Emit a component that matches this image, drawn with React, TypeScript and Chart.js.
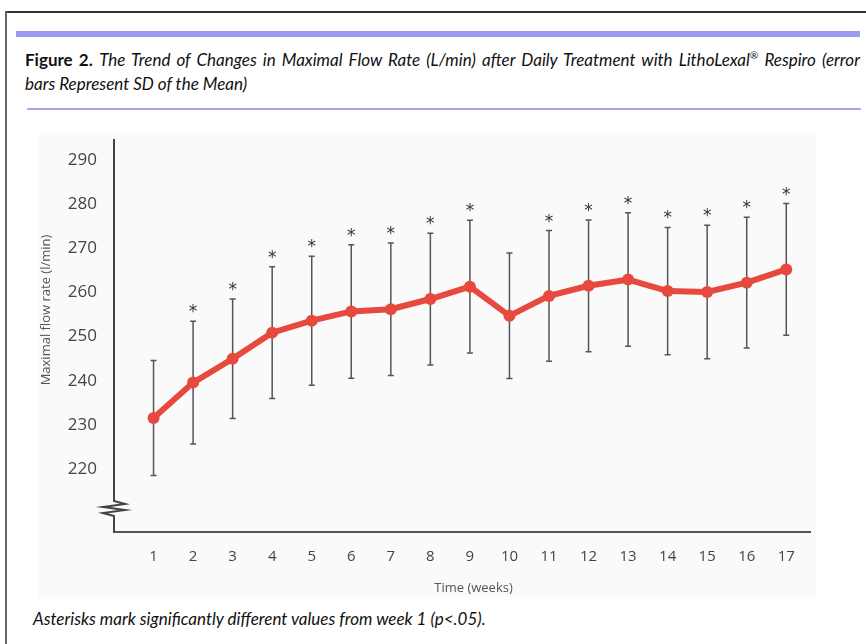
import React, { useEffect, useRef } from "react";
import { Chart, registerables } from "chart.js";

Chart.register(...registerables);

const weeks = [1, 2, 3, 4, 5, 6, 7, 8, 9, 10, 11, 12, 13, 14, 15, 16, 17];
const meanFlow = [231.6, 239.6, 245.0, 250.9, 253.6, 255.7, 256.2, 258.5, 261.3, 254.7, 259.2, 261.5, 262.9, 260.3, 260.1, 262.2, 265.2];
const sdFlow = [13.0, 13.9, 13.5, 14.9, 14.6, 15.1, 15.0, 14.9, 15.0, 14.2, 14.8, 14.9, 15.1, 14.4, 15.1, 14.8, 14.9];
const significant = [false, true, true, true, true, true, true, true, true, false, true, true, true, true, true, true, true];
const yTickValues = [220, 230, 240, 250, 260, 270, 280, 290];
const xTitle = "Time (weeks)";
const yTitle = "Maximal flow rate (l/min)";

const TICK_FONT = '"Open Sans", sans-serif';

const decorPlugin = {
  id: "decor",
  beforeDraw(chart: any) {
    const { ctx, width, height } = chart;
    ctx.save();
    ctx.fillStyle = "#fafafa";
    ctx.fillRect(0, 0, width, height);
    ctx.restore();
  },
  beforeDatasetsDraw(chart: any) {
    const { ctx, chartArea } = chart;
    const xs = chart.scales.x;
    const ys = chart.scales.y;
    ctx.save();
    ctx.strokeStyle = "#555";
    ctx.lineWidth = 1.5;
    for (let i = 0; i < weeks.length; i++) {
      const x = xs.getPixelForValue(weeks[i]);
      const yt = ys.getPixelForValue(meanFlow[i] + sdFlow[i]);
      const yb = ys.getPixelForValue(meanFlow[i] - sdFlow[i]);
      ctx.beginPath();
      ctx.moveTo(x, yt);
      ctx.lineTo(x, yb);
      ctx.moveTo(x - 3, yt);
      ctx.lineTo(x + 3, yt);
      ctx.moveTo(x - 3, yb);
      ctx.lineTo(x + 3, yb);
      ctx.stroke();
    }
    const ax = chartArea.left;
    const b = chartArea.bottom;
    ctx.strokeStyle = "#444";
    ctx.lineWidth = 2;
    ctx.beginPath();
    ctx.moveTo(ax, chartArea.top);
    ctx.lineTo(ax, b - 31);
    ctx.lineTo(ax + 11, b - 28);
    ctx.lineTo(ax - 11, b - 25);
    ctx.lineTo(ax + 11, b - 22);
    ctx.lineTo(ax - 11, b - 19);
    ctx.lineTo(ax, b - 16);
    ctx.lineTo(ax, b);
    ctx.stroke();
    ctx.restore();
  },
  afterDatasetsDraw(chart: any) {
    const { ctx } = chart;
    const xs = chart.scales.x;
    const ys = chart.scales.y;
    ctx.save();
    ctx.fillStyle = "#333";
    ctx.font = '17px "DejaVu Sans", sans-serif';
    ctx.textAlign = "center";
    ctx.textBaseline = "alphabetic";
    for (let i = 0; i < weeks.length; i++) {
      if (!significant[i]) continue;
      const x = xs.getPixelForValue(weeks[i]);
      const yt = ys.getPixelForValue(meanFlow[i] + sdFlow[i]);
      ctx.fillText("*", x, yt - 4);
    }
    ctx.fillStyle = "#555";
    ctx.font = "13px " + TICK_FONT;
    ctx.textBaseline = "middle";
    ctx.fillText(xTitle, 435.5, chart.height - 9);
    ctx.translate(8, 177);
    ctx.rotate(-Math.PI / 2);
    ctx.fillText(yTitle, 0, 0);
    ctx.restore();
  },
};

function FlowChart() {
  const ref = useRef<HTMLCanvasElement | null>(null);
  useEffect(() => {
    if (!ref.current) return;
    const chart = new Chart(ref.current, {
      type: "line",
      data: {
        datasets: [
          {
            data: weeks.map((w, i) => ({ x: w, y: meanFlow[i] })),
            borderColor: "#e8493f",
            backgroundColor: "#e8493f",
            borderWidth: 6,
            pointRadius: 6,
            pointHoverRadius: 6,
            pointBackgroundColor: "#e8493f",
            pointBorderWidth: 0,
            tension: 0,
          },
        ],
      },
      options: {
        responsive: false,
        animation: false,
        layout: { padding: { top: 5, right: 0, left: 0, bottom: 0 } },
        plugins: { legend: { display: false }, tooltip: { enabled: false } },
        scales: {
          x: {
            type: "linear",
            min: 0,
            max: 17.6,
            grid: { display: false, drawTicks: false },
            border: { display: true, color: "#555", width: 2 },
            ticks: { padding: 16, color: "#444", font: { family: TICK_FONT, size: 15 } },
            afterBuildTicks: (s: any) => {
              s.ticks = weeks.map((v) => ({ value: v }));
            },
            afterFit: (s: any) => {
              s.height = 65;
              s.paddingLeft = 0;
              s.paddingRight = 0;
            },
          },
          y: {
            type: "linear",
            min: 205.8,
            max: 294.7,
            grid: { display: false, drawTicks: false },
            border: { display: false },
            ticks: { padding: 17, color: "#444", font: { family: TICK_FONT, size: 17 } },
            afterBuildTicks: (s: any) => {
              s.ticks = yTickValues.map((v) => ({ value: v }));
            },
            afterFit: (s: any) => {
              s.width = 76;
              s.paddingTop = 0;
              s.paddingBottom = 0;
            },
          },
        },
      },
      plugins: [decorPlugin],
    });
    return () => chart.destroy();
  }, []);
  return (
    <canvas
      ref={ref}
      width={778}
      height={464}
      style={{ position: "absolute", left: 38, top: 133, width: 778, height: 464 }}
    />
  );
}

export default function App() {
  return (
    <div
      style={{
        position: "absolute",
        left: 0,
        top: 0,
        width: 866,
        height: 644,
        background: "#fff",
        overflow: "hidden",
        fontFamily: "Lato, sans-serif",
        color: "#111",
      }}
    >
      <div style={{ position: "absolute", left: 5, top: 11, width: 861, height: 2, background: "#333" }} />
      <div style={{ position: "absolute", left: 5, top: 11, width: 2, height: 633, background: "#666" }} />
      <div style={{ position: "absolute", left: 16, top: 31, width: 844, height: 6, background: "#9b9bf0" }} />
      <div style={{ position: "absolute", left: 25, top: 48, width: 835, fontSize: 17, lineHeight: "24px" }}>
        <div style={{ textAlign: "justify", textAlignLast: "justify" }}>
          <b>Figure 2.</b>{" "}
          <i>
            The Trend of Changes in Maximal Flow Rate (L/min) after Daily Treatment with LithoLexal
            <sup style={{ fontSize: "0.6em", lineHeight: 0 }}>®</sup> Respiro (error
          </i>
        </div>
        <div>
          <i>bars Represent SD of the Mean)</i>
        </div>
      </div>
      <div style={{ position: "absolute", left: 27, top: 108, width: 834, height: 1.5, background: "#a5a5ee" }} />
      <FlowChart />
      <div style={{ position: "absolute", left: 33, top: 608, fontSize: 17, lineHeight: "22px", fontStyle: "italic" }}>
        Asterisks mark significantly different values from week 1 (p&lt;.05).
      </div>
    </div>
  );
}
